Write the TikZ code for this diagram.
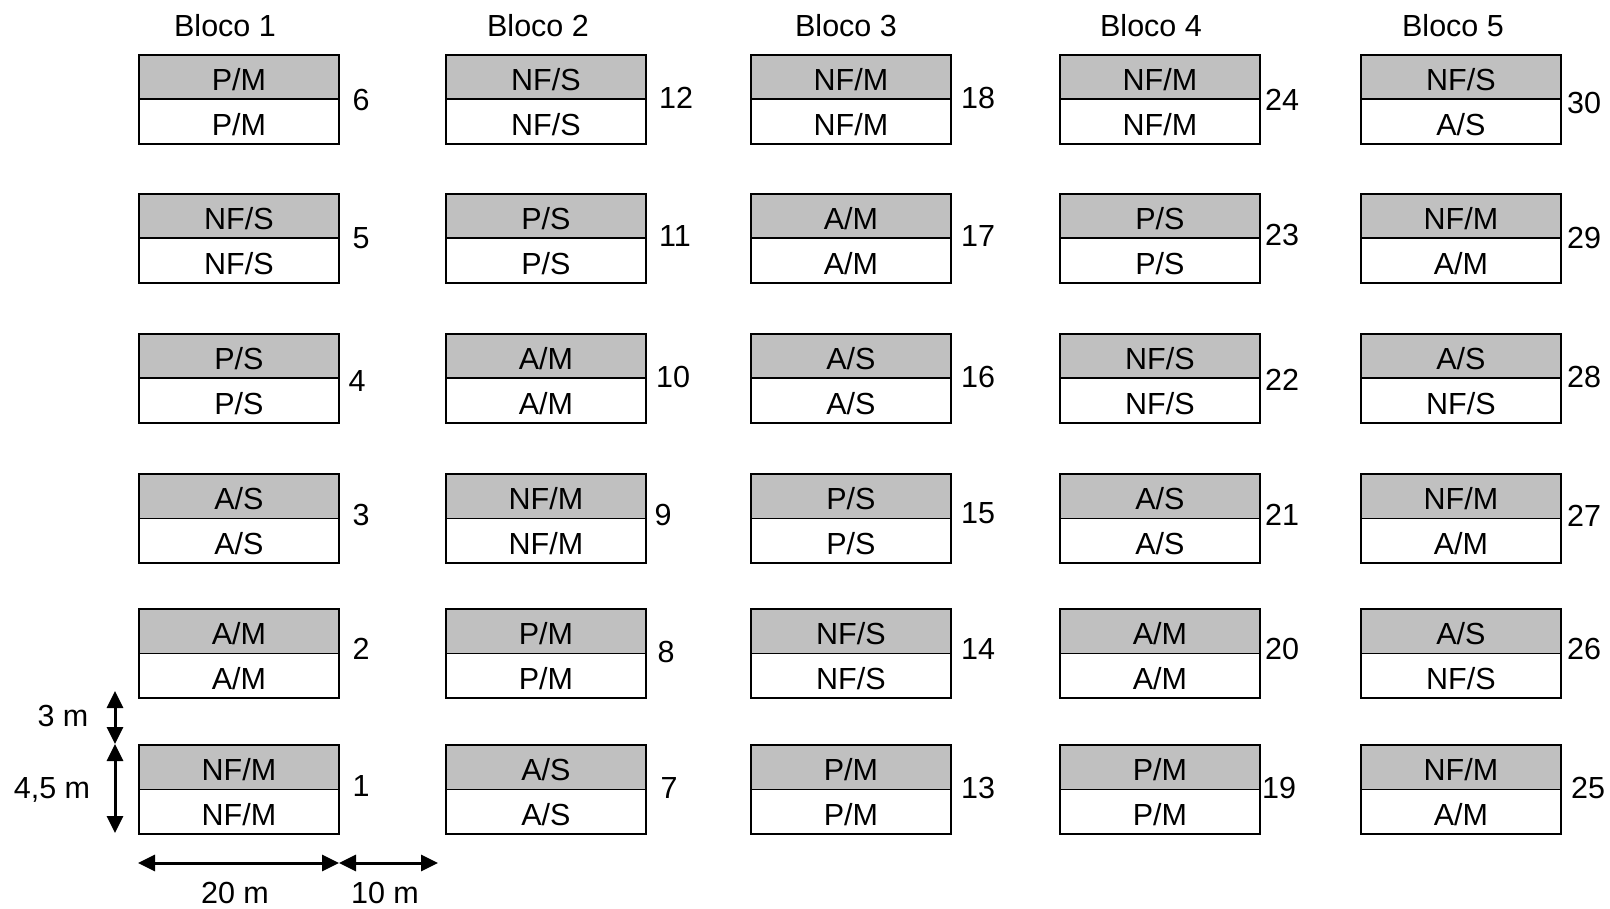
\documentclass[tikz,border=0pt]{standalone}
\usepackage{fontspec}
\setmainfont{Liberation Sans}
\usetikzlibrary{arrows.meta}
\definecolor{plotgray}{RGB}{192,192,192}
\begin{document}
\begin{tikzpicture}[x=1pt,y=-1pt,
  half/.style={draw=black,line width=1.8pt,minimum width=200pt,minimum height=44.5pt,
    inner sep=0pt,anchor=north west,text height=27pt,text depth=0pt,
    font=\fontsize{30.5}{30.5}\selectfont},
  upper/.style={half,fill=plotgray},
  lower/.style={half,fill=white},
  lbl/.style={inner sep=0pt,font=\fontsize{30.5}{30.5}\selectfont},
  dimarrow/.style={line width=3pt,{Triangle[length=17pt,width=16pt]}-{Triangle[length=17pt,width=16pt]}}
]
\useasboundingbox (0,0) rectangle (1610,909);

% block titles
\node[lbl] (b1) at (225,26) {Bloco 1};
\node[lbl] (b2) at (538,26) {Bloco 2};
\node[lbl] (b3) at (846,26) {Bloco 3};
\node[lbl] (b4) at (1151,26) {Bloco 4};
\node[lbl] (b5) at (1453,26) {Bloco 5};

% plots: number / left / top / upper text / lower text / number x / number y
\foreach \n/\L/\T/\ta/\tb/\nx/\ny in {
  6/138/54/{P/M}/{P/M}/361/100,
  5/138/193/{NF/S}/{NF/S}/361/238,
  4/138/333/{P/S}/{P/S}/357/381,
  3/138/473/{A/S}/{A/S}/361/515,
  2/138/608/{A/M}/{A/M}/361/649,
  1/138/744/{NF/M}/{NF/M}/361/786,
  12/445/54/{NF/S}/{NF/S}/676/98,
  11/445/193/{P/S}/{P/S}/675/236,
  10/445/333/{A/M}/{A/M}/673/377,
  9/445/473/{NF/M}/{NF/M}/663/515,
  8/445/608/{P/M}/{P/M}/666/652,
  7/445/744/{A/S}/{A/S}/669/788,
  18/750/54/{NF/M}/{NF/M}/978/98,
  17/750/193/{A/M}/{A/M}/978/236,
  16/750/333/{A/S}/{A/S}/978/377,
  15/750/473/{P/S}/{P/S}/978/513,
  14/750/608/{NF/S}/{NF/S}/978/649,
  13/750/744/{P/M}/{P/M}/978/788,
  24/1059/54/{NF/M}/{NF/M}/1282/100,
  23/1059/193/{P/S}/{P/S}/1282/235,
  22/1059/333/{NF/S}/{NF/S}/1282/380,
  21/1059/473/{A/S}/{A/S}/1282/515,
  20/1059/608/{A/M}/{A/M}/1282/649,
  19/1059/744/{P/M}/{P/M}/1279/788,
  30/1360/54/{NF/S}/{A/S}/1584/103,
  29/1360/193/{NF/M}/{A/M}/1584/238,
  28/1360/333/{A/S}/{NF/S}/1584/377,
  27/1360/473/{NF/M}/{A/M}/1584/516,
  26/1360/608/{A/S}/{NF/S}/1584/649,
  25/1360/744/{NF/M}/{A/M}/1588/788}
{
  \node[upper] (p\n u) at (\L,\T) {\ta};
  \node[lower] (p\n l) at (\L,\T+44.5) {\tb};
  \node[lbl] (n\n) at (\nx,\ny) {\n};
}

% dimension arrows
\coordinate (v0) at (115,691);
\coordinate (v1) at (115,744);
\coordinate (v2) at (115,833);
\coordinate (h0) at (138,863);
\coordinate (h1) at (339,863);
\coordinate (h2) at (438,863);
\draw[dimarrow] (v0) -- (v1);
\draw[dimarrow] (v1) -- (v2);
\draw[dimarrow] (h0) -- (h1);
\draw[dimarrow] (h1) -- (h2);

\node[lbl] (d3) at (63,716) {3 m};
\node[lbl] (d45) at (52,790) {4,5 m};
\node[lbl] (d20) at (235,893) {20 m};
\node[lbl] (d10) at (385,893) {10 m};
\end{tikzpicture}
\end{document}
